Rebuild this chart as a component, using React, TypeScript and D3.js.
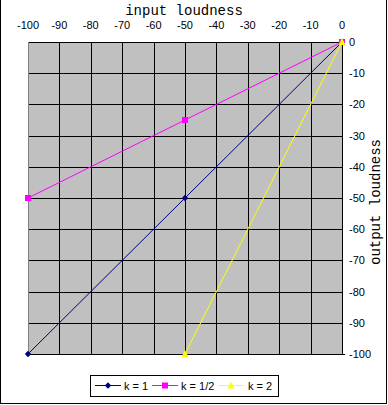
import React from "react";
import * as d3 from "d3";

// input loudness ticks (x) and output loudness ticks (y)
const xTicks = [-100, -90, -80, -70, -60, -50, -40, -30, -20, -10, 0];
const yTicks = [0, -10, -20, -30, -40, -50, -60, -70, -80, -90, -100];

// series
const inputK1 = [-100, -50, 0];
const outputK1 = [-100, -50, 0];
const inputKHalf = [-100, -50, 0];
const outputKHalf = [-50, -25, 0];
const inputK2 = [-50, 0];
const outputK2 = [-100, 0];

const seriesNames = ["k = 1", "k = 1/2", "k = 2"];
const seriesColors = ["#000080", "#FF00FF", "#FFFF00"];

const W = 388;
const H = 405;
const plot = { left: 28, right: 342, top: 42, bottom: 354 };

function Marker({ kind, x, y, color }: { kind: number; x: number; y: number; color: string }) {
  if (kind === 0) {
    const s = 3.2;
    return <path d={`M${x},${y - s}L${x + s},${y}L${x},${y + s}L${x - s},${y}Z`} fill={color} />;
  }
  if (kind === 1) {
    return <rect x={x - 3} y={y - 3} width={6} height={6} fill={color} />;
  }
  return <path d={`M${x},${y - 4}L${x + 3.5},${y + 3}L${x - 3.5},${y + 3}Z`} fill={color} />;
}

export default function App() {
  const x = d3.scaleLinear().domain([-100, 0]).range([plot.left, plot.right]);
  const y = d3.scaleLinear().domain([0, -100]).range([plot.top, plot.bottom]);

  const series = [
    { xs: inputK1, ys: outputK1 },
    { xs: inputKHalf, ys: outputKHalf },
    { xs: inputK2, ys: outputK2 },
  ];

  const line = d3
    .line<[number, number]>()
    .x((d) => x(d[0]))
    .y((d) => y(d[1]));

  const font = "'Liberation Sans', Arial, sans-serif";
  const mono = "'Liberation Mono', 'Courier New', monospace";

  // legend layout
  const legendItems = [
    { lx: 95, tx: 124 },
    { lx: 152, tx: 181 },
    { lx: 218, tx: 248 },
  ];

  return (
    <svg width={W} height={H} style={{ position: "absolute", left: 0, top: 0 }}>
      <rect x={0} y={0} width={W} height={H} fill="#fff" />
      <rect x={0.5} y={-1} width={386} height={404.5} fill="none" stroke="#000" />

      {/* plot area */}
      <rect
        x={plot.left}
        y={plot.top}
        width={plot.right - plot.left}
        height={plot.bottom - plot.top}
        fill="#C0C0C0"
      />
      {xTicks.slice(1).map((t) => (
        <line
          key={"vx" + t}
          x1={Math.round(x(t)) + 0.5}
          x2={Math.round(x(t)) + 0.5}
          y1={plot.top}
          y2={plot.bottom}
          stroke="#000"
        />
      ))}
      {yTicks.map((t) => (
        <line
          key={"hy" + t}
          x1={plot.left}
          x2={plot.right + (t === -100 ? 3 : 0)}
          y1={Math.round(y(t)) + 0.5}
          y2={Math.round(y(t)) + 0.5}
          stroke="#000"
        />
      ))}
      <line
        x1={plot.left + 0.5}
        x2={plot.left + 0.5}
        y1={plot.top}
        y2={plot.bottom + 1}
        stroke="#808080"
      />

      {/* series */}
      {series.map((s, i) => (
        <path
          key={"l" + i}
          d={line(s.xs.map((v, j) => [v, s.ys[j]] as [number, number])) || ""}
          fill="none"
          stroke={seriesColors[i]}
          strokeWidth={1}
        />
      ))}
      {series.map((s, i) =>
        s.xs.map((v, j) => (
          <Marker key={"m" + i + "-" + j} kind={i} x={x(v)} y={y(s.ys[j])} color={seriesColors[i]} />
        ))
      )}

      {/* x tick labels (top) */}
      {xTicks.map((t) => (
        <text
          key={"xt" + t}
          x={x(t)}
          y={29}
          textAnchor="middle"
          fontFamily={font}
          fontSize={11}
        >
          {t}
        </text>
      ))}
      {/* y tick labels (right) */}
      {yTicks.map((t) => (
        <text
          key={"yt" + t}
          x={349}
          y={y(t) + 4}
          fontFamily={font}
          fontSize={11}
        >
          {t}
        </text>
      ))}

      <text x={184} y={15} textAnchor="middle" fontFamily={mono} fontSize={14}>
        input loudness
      </text>
      <text
        transform={`translate(380,${(plot.top + plot.bottom) / 2 + 4}) rotate(-90)`}
        textAnchor="middle"
        fontFamily={mono}
        fontSize={14}
      >
        output loudness
      </text>

      {/* legend */}
      <rect x={90.5} y={375.5} width={188} height={21} fill="#fff" stroke="#000" />
      {legendItems.map((it, i) => (
        <g key={"lg" + i}>
          <line x1={it.lx} x2={it.lx + 26} y1={385.5} y2={385.5} stroke={seriesColors[i]} />
          <Marker kind={i} x={it.lx + 13} y={385.5} color={seriesColors[i]} />
          <text x={it.tx} y={389.5} fontFamily={font} fontSize={11}>
            {seriesNames[i]}
          </text>
        </g>
      ))}
    </svg>
  );
}
